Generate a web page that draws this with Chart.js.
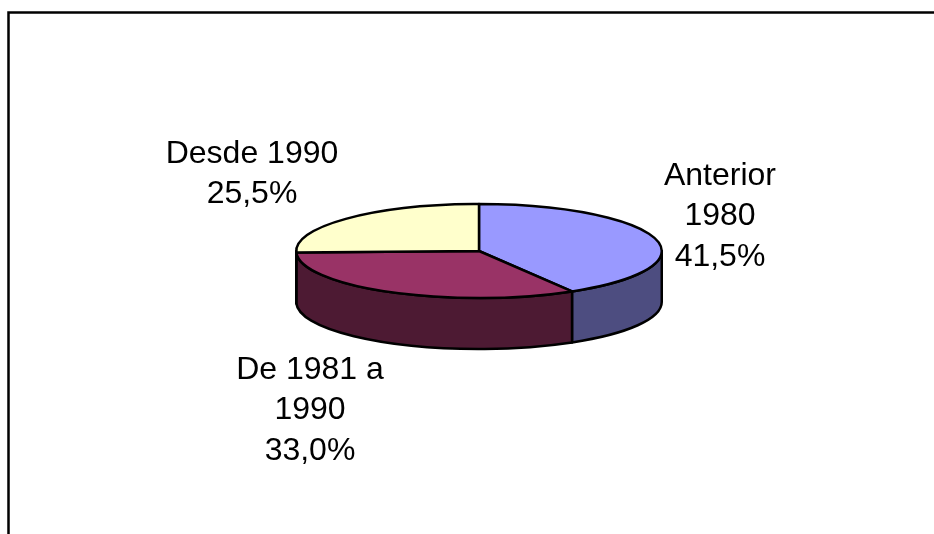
<!DOCTYPE html>
<html>
<head>
<meta charset="utf-8">
<style>
html,body{margin:0;padding:0;background:#fff;}
#wrap{position:absolute;left:0;top:0;width:934px;height:534px;}
canvas{display:block;}
</style>
<script src="https://cdn.jsdelivr.net/npm/chart.js@4"></script>
</head>
<body>
<div id="wrap"><canvas id="c" width="934" height="534"></canvas></div>
<script>
const categories = ["Anterior 1980", "De 1981 a 1990", "Desde 1990"];
const shares = [41.5, 33.0, 25.5];
const labelLines = [["Anterior", "1980", "41,5%"], ["De 1981 a", "1990", "33,0%"], ["Desde 1990", "25,5%"]];
const topColors = ["#9999FF", "#993366", "#FFFFCC"];
const wallColors = ["#4D4D80", "#4D1A33", "#80801A"];

const squash = 47 / 183;
const depth = 51;
const labelAnchors = [[720, 176], [310, 370], [252, 154]];
const lineGap = 40.5;

const { ArcElement, PieController } = Chart;

class TiltedArc extends ArcElement {
  draw(ctx) {
    const { x, y, startAngle, endAngle, outerRadius } = this.getProps(['x', 'y', 'startAngle', 'endAngle', 'outerRadius']);
    const o = this.options;
    const rx = outerRadius, ry = outerRadius * squash;
    const pt = a => [x + rx * Math.cos(a), y + ry * Math.sin(a)];
    ctx.save();
    ctx.lineJoin = 'round';
    ctx.lineWidth = o.borderWidth;
    ctx.strokeStyle = o.borderColor;
    // side wall: only the part of the rim on the near half of the ellipse
    const a0 = Math.max(startAngle, 0), a1 = Math.min(endAngle, Math.PI);
    if (a1 > a0) {
      const p0 = pt(a0), p1 = pt(a1);
      ctx.beginPath();
      ctx.moveTo(p0[0], p0[1]);
      ctx.ellipse(x, y, rx, ry, 0, a0, a1);
      ctx.lineTo(p1[0], p1[1] + depth);
      ctx.ellipse(x, y + depth, rx, ry, 0, a1, a0, true);
      ctx.closePath();
      ctx.fillStyle = wallColors[this.$context.dataIndex];
      ctx.fill();
      ctx.stroke();
    }
    // top face
    ctx.beginPath();
    ctx.moveTo(x, y);
    ctx.ellipse(x, y, rx, ry, 0, startAngle, endAngle);
    ctx.closePath();
    ctx.fillStyle = o.backgroundColor;
    ctx.fill();
    ctx.stroke();
    ctx.restore();
  }
}
TiltedArc.id = 'tiltedArc';
TiltedArc.defaults = Object.assign({}, ArcElement.defaults);
TiltedArc.defaultRoutes = ArcElement.defaultRoutes;
TiltedArc.descriptors = ArcElement.descriptors;

class TiltedPie extends PieController {}
TiltedPie.id = 'tiltedPie';
TiltedPie.defaults = Object.assign({}, PieController.defaults, { dataElementType: 'tiltedArc' });
TiltedPie.overrides = PieController.overrides;
Chart.register(TiltedArc, TiltedPie);

const framePlugin = {
  id: 'frame',
  beforeDraw(chart) {
    const ctx = chart.ctx;
    ctx.save();
    ctx.strokeStyle = '#000';
    ctx.lineWidth = 2.5;
    ctx.beginPath();
    ctx.moveTo(8.5, 534);
    ctx.lineTo(8.5, 12.5);
    ctx.lineTo(934, 12.5);
    ctx.stroke();
    ctx.restore();
  }
};
const labelPlugin = {
  id: 'sliceText',
  afterDatasetsDraw(chart) {
    const ctx = chart.ctx;
    ctx.save();
    ctx.fillStyle = '#000';
    ctx.font = '32px "Liberation Sans", Arial, sans-serif';
    ctx.textAlign = 'center';
    ctx.textBaseline = 'middle';
    labelLines.forEach((lines, i) => {
      lines.forEach((t, j) => ctx.fillText(t, labelAnchors[i][0], labelAnchors[i][1] + j * lineGap));
    });
    ctx.restore();
  }
};

new Chart(document.getElementById('c'), {
  type: 'tiltedPie',
  data: {
    labels: categories,
    datasets: [{
      data: shares,
      backgroundColor: topColors,
      borderColor: '#000',
      borderWidth: 2.5
    }]
  },
  options: {
    responsive: false,
    animation: false,
    layout: { padding: { left: 295, right: 271, top: 67, bottom: 99 } },
    plugins: { legend: { display: false }, title: { display: false }, tooltip: { enabled: false } }
  },
  plugins: [framePlugin, labelPlugin]
});
</script>
</body>
</html>
